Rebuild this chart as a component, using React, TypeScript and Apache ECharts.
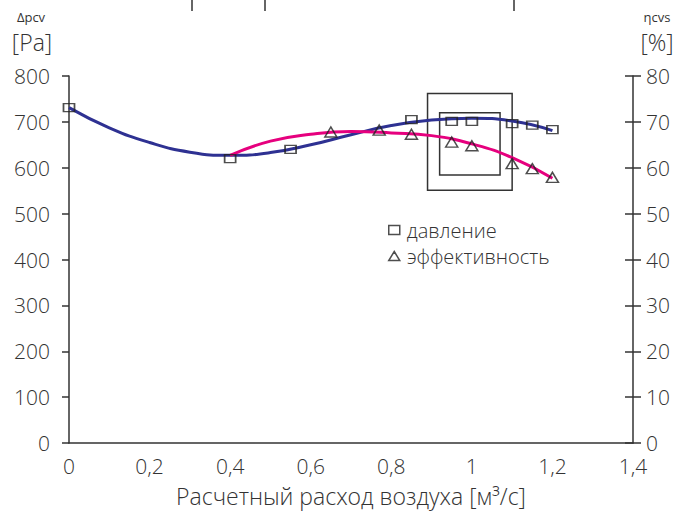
import React, { useEffect, useRef } from "react";
import * as echarts from "echarts";

// Measured points
const pressureX = [0, 0.4, 0.55, 0.85, 0.95, 1.0, 1.1, 1.15, 1.2];
const pressureY = [731, 620, 640, 705, 701, 701, 696, 693, 683];

const effX = [0.65, 0.77, 0.85, 0.95, 1.0, 1.1, 1.15, 1.2];
const effY = [67.8, 68.2, 67.3, 65.6, 64.8, 60.9, 59.8, 57.9];

// Trend curves
const pTrendX = [0, 0.1, 0.2, 0.3, 0.4, 0.5, 0.6, 0.7, 0.8, 0.9, 1.0, 1.1, 1.2];
const pTrendY = [731, 687, 655, 634, 627, 633, 650, 672, 692, 704, 708, 702, 681];

const eTrendX = [0.4, 0.5, 0.6, 0.7, 0.8, 0.9, 1.0, 1.1, 1.2];
const eTrendY = [62.7, 65.8, 67.3, 67.9, 67.6, 67.0, 65.2, 62.2, 57.7];

// Boxes [x1, y1, x2, y2] in data units (left axis)
const boxes = [
  [0.89, 762, 1.1, 551],
  [0.92, 720, 1.07, 584],
];

const xTicks = { min: 0, max: 1.4, interval: 0.2 };
const leftTicks = { min: 0, max: 800, interval: 100 };
const rightTicks = { min: 0, max: 80, interval: 10 };

const legendNames = ["давление", "эффективность"];

const FONT = "'Open Sans', 'Liberation Sans', sans-serif";
const TXT = "#333";

export default function App() {
  const ref = useRef<HTMLDivElement>(null);
  useEffect(() => {
    if (!ref.current) return;
    const chart = echarts.init(ref.current, undefined, { renderer: "svg" });
    const zip = (xs: number[], ys: number[]) => xs.map((x, i) => [x, ys[i]]);
    const axisLabelStyle = { fontSize: 21, color: TXT, fontFamily: FONT, fontWeight: 300 as any };
    const axisLineStyle = { color: "#333", width: 1.5 };
    chart.setOption({
      animation: false,
      backgroundColor: "#fff",
      textStyle: { fontFamily: FONT },
      grid: { left: 69, right: 59, top: 76, bottom: 69, containLabel: false, outerBoundsMode: "none" },
      legend: {
        orient: "vertical",
        left: 383,
        top: 215,
        itemGap: 6,
        itemWidth: 11,
        itemHeight: 9,
        textStyle: { fontSize: 20, color: TXT, fontFamily: FONT, fontWeight: 300 as any, padding: [0, 0, 0, 2] },
        data: [
          { name: legendNames[0], icon: "rect", itemStyle: { color: "rgba(0,0,0,0)", borderColor: "#222", borderWidth: 1.5 } },
          { name: legendNames[1], icon: "triangle", itemStyle: { color: "rgba(0,0,0,0)", borderColor: "#222", borderWidth: 1.5 } },
        ],
      },
      xAxis: {
        type: "value",
        ...xTicks,
        axisLine: { show: true, onZero: false, lineStyle: axisLineStyle },
        axisTick: { show: false },
        splitLine: { show: false },
        axisLabel: {
          ...axisLabelStyle,
          margin: 12,
          formatter: (v: number) => String(+v.toFixed(1)).replace(".", ","),
        },
        name: "Расчетный расход воздуха [м³/с]",
        nameLocation: "middle",
        nameGap: 41,
        nameTextStyle: { fontSize: 23, color: TXT, fontFamily: FONT, fontWeight: 300 as any },
      },
      yAxis: [
        {
          type: "value",
          position: "left",
          ...leftTicks,
          axisLine: { show: true, lineStyle: axisLineStyle },
          axisTick: { show: true, length: 7, lineStyle: axisLineStyle },
          splitLine: { show: false },
          axisLabel: { ...axisLabelStyle, margin: 19 },
        },
        {
          type: "value",
          position: "right",
          ...rightTicks,
          axisLine: { show: true, lineStyle: axisLineStyle },
          axisTick: { show: true, length: 8, lineStyle: axisLineStyle },
          splitLine: { show: false },
          axisLabel: { ...axisLabelStyle, margin: 13 },
        },
        {
          type: "value",
          position: "right",
          ...rightTicks,
          axisLine: { show: false },
          axisTick: { show: true, inside: true, length: 8, lineStyle: axisLineStyle },
          splitLine: { show: false },
          axisLabel: { show: false },
        },
      ],
      graphic: [
        { type: "line", shape: { x1: 192, y1: 0, x2: 192, y2: 11 }, style: { stroke: "#333", lineWidth: 1.5 } },
        { type: "line", shape: { x1: 265, y1: 0, x2: 265, y2: 11 }, style: { stroke: "#333", lineWidth: 1.5 } },
        { type: "line", shape: { x1: 514, y1: 0, x2: 514, y2: 11 }, style: { stroke: "#333", lineWidth: 1.5 } },
        { type: "text", x: 31, y: 17, style: { text: "Δpcv", fontSize: 13, fill: TXT, fontFamily: FONT, align: "center", verticalAlign: "middle" } },
        { type: "text", x: 32, y: 42, style: { text: "[Pa]", fontSize: 23, fill: TXT, fontFamily: FONT, fontWeight: 300, align: "center", verticalAlign: "middle" } },
        { type: "text", x: 657, y: 17, style: { text: "ηcvs", fontSize: 13, fill: TXT, fontFamily: FONT, align: "center", verticalAlign: "middle" } },
        { type: "text", x: 657, y: 42, style: { text: "[%]", fontSize: 23, fill: TXT, fontFamily: FONT, fontWeight: 300, align: "center", verticalAlign: "middle" } },
      ],
      series: [
        {
          name: "trendP",
          type: "line",
          data: zip(pTrendX, pTrendY),
          smooth: 0.5,
          showSymbol: false,
          lineStyle: { color: "#2e3192", width: 3 },
          itemStyle: { color: "#2e3192" },
          z: 2,
          markArea: {
            silent: true,
            itemStyle: { color: "rgba(0,0,0,0)", borderColor: "#333", borderWidth: 1.5 },
            data: boxes.map((b) => [{ coord: [b[0], b[1]] }, { coord: [b[2], b[3]] }]),
          },
        },
        {
          name: "trendE",
          type: "line",
          yAxisIndex: 1,
          data: zip(eTrendX, eTrendY),
          smooth: 0.5,
          showSymbol: false,
          lineStyle: { color: "#e6007e", width: 3 },
          itemStyle: { color: "#e6007e" },
          z: 2,
        },
        {
          name: legendNames[0],
          type: "scatter",
          data: zip(pressureX, pressureY),
          symbol: "rect",
          symbolSize: [11, 8],
          itemStyle: { color: "rgba(0,0,0,0)", borderColor: "#222", borderWidth: 1.5 },
          z: 3,
        },
        {
          name: legendNames[1],
          type: "scatter",
          yAxisIndex: 1,
          data: zip(effX, effY),
          symbol: "triangle",
          symbolSize: [12, 10],
          itemStyle: { color: "rgba(0,0,0,0)", borderColor: "#222", borderWidth: 1.5 },
          z: 3,
        },
      ],
    });
    return () => chart.dispose();
  }, []);
  return <div ref={ref} style={{ position: "fixed", left: 0, top: 0, width: 692, height: 512 }} />;
}
